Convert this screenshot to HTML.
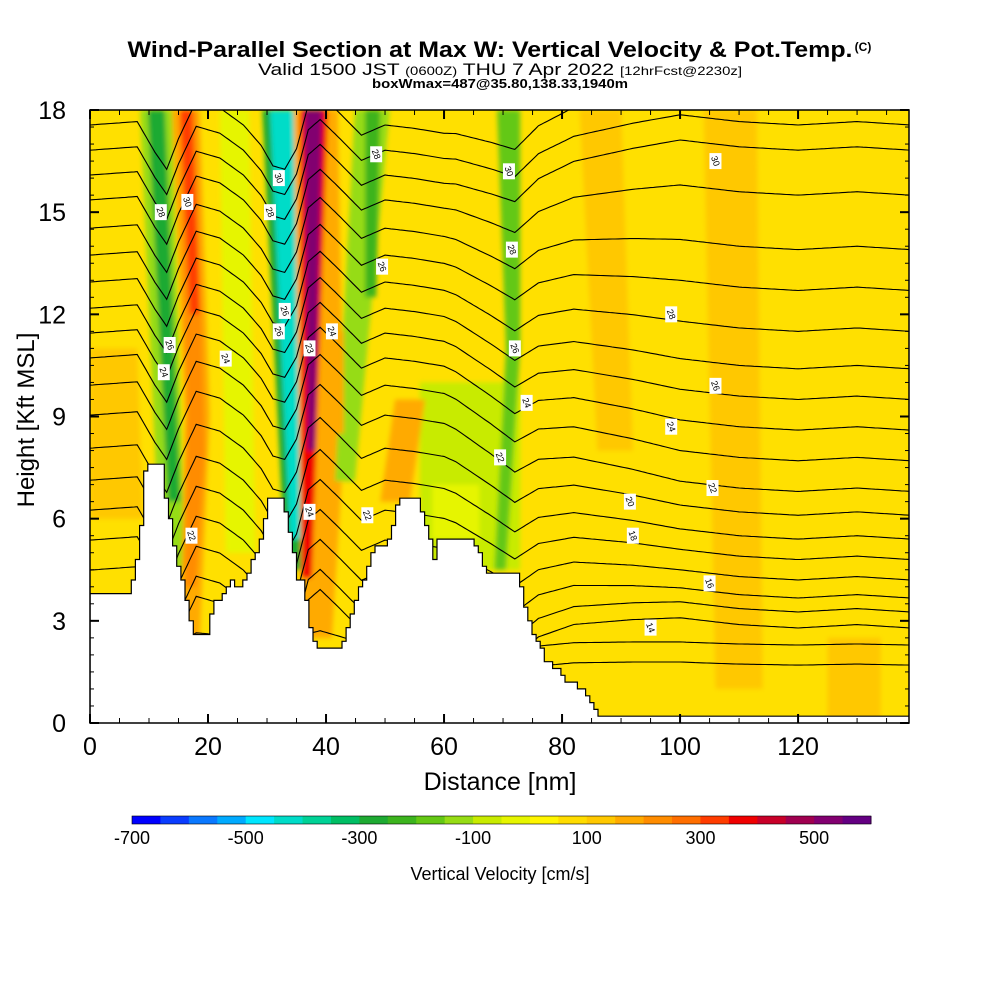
<!DOCTYPE html>
<html><head><meta charset="utf-8"><style>
body{margin:0;background:#fff;width:1000px;height:1000px;overflow:hidden}
svg{display:block}
text{font-family:"Liberation Sans",Arial,sans-serif}
</style></head><body>
<svg id="chart" width="1000" height="1000" viewBox="0 0 1000 1000">
<g>
<text x="490" y="57" text-anchor="middle" font-size="22" font-weight="bold" textLength="725" lengthAdjust="spacingAndGlyphs">Wind-Parallel Section at Max W: Vertical Velocity &amp; Pot.Temp.</text>
<text x="863" y="51" text-anchor="middle" font-size="12" font-weight="bold">(C)</text>
<text x="500" y="75" text-anchor="middle" font-size="17" textLength="484" lengthAdjust="spacingAndGlyphs">Valid 1500 JST <tspan font-size="12">(0600Z)</tspan> THU 7 Apr 2022 <tspan font-size="12">[12hrFcst@2230z]</tspan></text>
<text x="500" y="88" text-anchor="middle" font-size="13" font-weight="bold" textLength="256" lengthAdjust="spacingAndGlyphs">boxWmax=487@35.80,138.33,1940m</text>
</g>
<defs><clipPath id="plotclip"><rect x="90" y="110" width="819" height="613"/></clipPath>
<filter id="soft" x="-5%" y="-5%" width="110%" height="110%"><feGaussianBlur stdDeviation="2.5"/></filter></defs>
<g id="field" clip-path="url(#plotclip)"></g>
<g id="contours" clip-path="url(#plotclip)"></g>
<g id="terrain" clip-path="url(#plotclip)"></g>
<g id="labels"></g>
<rect x="90" y="110" width="819" height="613" fill="none" stroke="#000" stroke-width="1.5"/>
<g id="axes"></g>
<text x="500" y="790" text-anchor="middle" font-size="25">Distance [nm]</text>
<text transform="translate(34,420) rotate(-90)" text-anchor="middle" font-size="24">Height [Kft MSL]</text>
<g id="cbar"></g>
<text x="500" y="880" text-anchor="middle" font-size="18">Vertical Velocity [cm/s]</text>
</svg>
<script>
const NS="http://www.w3.org/2000/svg";
// colorbar levels (cm/s) and colors
const cbLevels=[-700,-650,-600,-550,-500,-450,-400,-350,-300,-250,-200,-150,-100,-50,0,50,100,150,200,250,300,350,400,450,500,550];
const cbColors=["#0000ff","#0a3cff","#0a78ff","#00aaff","#00e6ff","#00dcc8","#00d296","#00be64","#1eaa32","#3cb41e","#64c814","#96dc14","#c8eb00","#e6f500","#fff500","#ffdc00","#ffc800","#ffaa00","#ff8c00","#ff6e00","#ff3c00","#f00000","#c80028","#a00050","#820070","#640082"];
const cbTicks=[-700,-500,-300,-100,100,300,500];
// terrain profile
const terrX=[0,6.4,7.1,7.8,8.5,9.0,9.7,11.9,12.7,13.9,14.9,16.1,16.9,17.5,19.5,20.3,21.2,22.9,24.1,24.9,25.8,27.1,28.5,29.3,30.0,32.2,33.1,34.2,34.9,36.1,36.6,37.3,38.0,42.4,43.6,44.9,46.3,47.8,50.0,50.8,51.7,52.5,55.1,55.9,57.3,58.0,58.8,64.4,65.8,66.9,72.0,72.9,73.7,75.4,77.1,78.8,80.5,83.1,84.7,85.9,139];
const terrH=[3.85,3.85,4.2,4.93,5.96,7.43,7.66,7.66,6.55,5.37,4.49,3.61,2.88,2.58,2.58,3.17,3.61,3.9,4.2,3.9,4.2,4.64,5.23,5.96,6.69,6.69,5.96,5.23,4.2,4.2,3.32,2.73,2.23,2.23,2.88,3.61,4.35,5.08,5.23,5.66,6.25,6.69,6.69,6.25,5.52,4.79,5.43,5.43,4.93,4.49,4.49,3.9,3.17,2.44,1.85,1.56,1.26,0.97,0.53,0.29,0.29];
// theta contour base heights (kft) at left and right of domain
const thetaLeft=[17.56,16.82,16.09,15.36,14.53,13.74,12.95,12.18,11.45,10.72,9.92,9.04,8.07,7.13,6.25,5.37,4.49,3.61,3.02,2.44,1.85];
const thetaRight=[18.5,17.56,16.82,15.5,13.9,12.7,11.5,10.4,9.5,8.6,7.7,6.8,6.1,5.4,4.8,4.2,3.67,3.26,2.79,2.29,1.7];
// displacement profile (kft) along distance
const dispX=[0,8,11,13,15,18,22,26,29,31,33,35,37,39,42,46,50,55,62,68,72,76,82,92,100,110,120,130,139];
const dispV=[0,0.1,-0.8,-1.3,-0.4,0.7,0.5,0.0,-0.6,-1.2,-1.3,-0.7,0.6,0.9,0.4,-0.3,0.0,-0.1,-0.3,-0.7,-1.0,-0.4,0,0.2,0.3,0.1,0,0.1,0];
// velocity bands: polygons [nm,kft] and value
const bandVals=[-150,-300,150,200,300,-300,-450,150,350,500,-100,-150,-250,150,150,-200,100,100,100,100,-50,-50];
const bandPolys=[
[[8.5,18],[13.9,18],[16.1,4.5],[11.9,4.5]],
[[9.8,18],[12.7,18],[15.3,6.5],[13.2,6.5]],
[[13.9,18],[18.6,18],[20.3,9],[18.6,2.5],[15.3,2.5],[16.1,9]],
[[15,18],[18,18],[19.5,8],[18,4],[16,4],[16.5,9]],
[[15.3,18],[17.3,18],[18.6,12],[16.9,12]],
[[29.2,18],[35.6,18],[35.9,4.5],[33.1,4.5]],
[[30.5,18],[34.7,18],[35.6,5.4],[33.9,5.4]],
[[34.5,18],[42,18],[43,8],[41,2.5],[36,2.5]],
[[35.6,18],[40.3,18],[37.6,4.25],[35.9,4.25]],
[[36.4,18],[39.3,18],[38.1,8],[36.9,8]],
[[55.9,10],[72.9,10],[72.9,4.5],[55.9,4.5]],
[[44.9,18],[50.8,18],[44.9,7.1],[41.5,7.1]],
[[46.6,18],[49.2,18],[48.5,12.5],[46.6,12.5]],
[[51.7,9.5],[56.8,9.5],[54.2,6.5],[49.2,6.5]],
[[40.5,11.5],[43,11.5],[43,8.5],[40.5,8.5]],
[[69,18],[72.9,18],[72.9,11],[70.5,4.5],[68.5,4.5],[70.5,11]],
[[83,18],[90,18],[92,8],[86,8]],
[[104,18],[113,18],[114,1],[106,1]],
[[125,2.5],[134,2.5],[134,0],[125,0]],
[[0,11],[8,11],[9,6],[0,6]],
[[22,18],[27,18],[28,5],[23,5]],
[[58,7],[66,7],[66,5.4],[58,5.4]]
];
const contourLbl=[["28",12,15],["30",16.5,15.3],["26",13.5,11.1],["24",12.5,10.3],["24",23,10.7],["22",17.2,5.5],["30",32,16],["28",30.5,15],["26",33,12.1],["26",32,11.5],["23",37.2,11],["24",41,11.5],["24",37.2,6.2],["28",48.5,16.7],["26",49.5,13.4],["22",47,6.1],["30",71,16.2],["28",71.5,13.9],["26",72,11],["24",74,9.4],["22",69.5,7.8],["28",98.5,12],["26",106,9.9],["24",98.5,8.7],["22",105.5,6.9],["20",91.5,6.5],["18",92,5.5],["16",105,4.1],["14",95,2.8],["30",106,16.5]];
const X0=90,X1=909,Y0=723,Y1=110,XMAX=138.8,YMAX=18;
function sx(v){return X0+(X1-X0)*v/XMAX;}
function sy(v){return Y0-(Y0-Y1)*v/YMAX;}
function colorOf(v){let i=0;for(let k=0;k<cbLevels.length;k++){if(v>=cbLevels[k])i=k;}return cbColors[i];}
function interp(xs,ys,x){if(x<=xs[0])return ys[0];for(let i=1;i<xs.length;i++){if(x<=xs[i]){const t=(x-xs[i-1])/(xs[i]-xs[i-1]);return ys[i-1]+t*(ys[i]-ys[i-1]);}}return ys[ys.length-1];}
// field
const field=document.getElementById('field');
const bg=document.createElementNS(NS,'rect');
bg.setAttribute('x',X0);bg.setAttribute('y',Y1);bg.setAttribute('width',X1-X0);bg.setAttribute('height',Y0-Y1);bg.setAttribute('fill','#ffe000');


field.appendChild(bg);
const fg=document.createElementNS(NS,'g');fg.setAttribute('filter','url(#soft)');field.appendChild(fg);
bandPolys.forEach((p,i)=>{const el=document.createElementNS(NS,'polygon');
el.setAttribute('points',p.map(q=>sx(q[0]).toFixed(1)+','+sy(q[1]).toFixed(1)).join(' '));
el.setAttribute('fill',colorOf(bandVals[i]));


fg.appendChild(el);});
// contours
const cg=document.getElementById('contours');
for(let i=0;i<thetaLeft.length;i++){let pts=[];
for(let x=0;x<=139;x+=0.5){const w=Math.min(1,Math.max(0,(x-60)/40));
const scale=thetaLeft[i]<3?0.3:1;
const h=thetaLeft[i]*(1-w)+thetaRight[i]*w+interp(dispX,dispV,x)*scale;
pts.push(sx(x).toFixed(1)+','+sy(h).toFixed(1));}
const pl=document.createElementNS(NS,'polyline');pl.setAttribute('points',pts.join(' '));
pl.setAttribute('fill','none');pl.setAttribute('stroke','#000');pl.setAttribute('stroke-width','1.1');


cg.appendChild(pl);}
// terrain (staircase, as in model grid)
const tg=document.getElementById('terrain');
let tp=[];const STEP=0.7;let prevY=null;
for(let x=0;x<=139;x+=STEP){const y=sy(Math.round(interp(terrX,terrH,x)/0.2)*0.2);
if(prevY!==null)tp.push(sx(x).toFixed(1)+','+prevY.toFixed(1));
tp.push(sx(x).toFixed(1)+','+y.toFixed(1));prevY=y;}
tp.push(sx(139)+','+prevY.toFixed(1));
tp.push(sx(139)+','+(Y0+5));tp.push(sx(0)+','+(Y0+5));
const tpoly=document.createElementNS(NS,'polygon');tpoly.setAttribute('points',tp.join(' '));
tpoly.setAttribute('fill','#fff');tpoly.setAttribute('stroke','#000');tpoly.setAttribute('stroke-width','1.2');


tg.appendChild(tpoly);
// contour labels
const lg=document.getElementById('labels');
contourLbl.forEach(l=>{const x=sx(l[1]),y=sy(l[2]);
const r=document.createElementNS(NS,'rect');r.setAttribute('x',x-6);r.setAttribute('y',y-8);r.setAttribute('width',12);r.setAttribute('height',16);r.setAttribute('fill','#fff');


lg.appendChild(r);
const t=document.createElementNS(NS,'text');t.setAttribute('transform','translate('+x+','+y+') rotate(70)');
t.setAttribute('text-anchor','middle');t.setAttribute('dy','3');t.setAttribute('font-size','9');t.textContent=l[0];


lg.appendChild(t);});
// axes
const ag=document.getElementById('axes');
function line(x1,y1,x2,y2,name,w){const l=document.createElementNS(NS,'line');l.setAttribute('x1',x1);l.setAttribute('y1',y1);l.setAttribute('x2',x2);l.setAttribute('y2',y2);l.setAttribute('stroke','#000');l.setAttribute('stroke-width',w||1);


ag.appendChild(l);}
function txt(x,y,s,size,anchor,name){const t=document.createElementNS(NS,'text');t.setAttribute('x',x);t.setAttribute('y',y);t.setAttribute('font-size',size);t.setAttribute('text-anchor',anchor);t.textContent=s;


ag.appendChild(t);}
for(let k=0;k<=36;k++){const v=k*0.5,y=sy(v),major=(v%3===0);const len=major?9:4;
line(X0,y,X0+len,y,'y-tick',major?2:1);line(X1,y,X1-len,y,'y-tick-right',major?2:1);
if(major)txt(66,y+9,String(v),25,'end','y-tick-label');}
for(let v=0;v<=135;v+=5){const x=sx(v),major=(v%20===0);const len=major?9:5;
line(x,Y0,x,Y0-len,'x-tick',major?2:1);line(x,Y1,x,Y1+len,'x-tick-top',major?2:1);
if(major)txt(x,755,String(v),25,'middle','x-tick-label');}
// colorbar
const cb=document.getElementById('cbar');
const CB0=132,CB1=871,sw=(CB1-CB0)/cbColors.length;
cbColors.forEach((c,i)=>{const r=document.createElementNS(NS,'rect');r.setAttribute('x',CB0+i*sw);r.setAttribute('y',816);r.setAttribute('width',sw+0.5);r.setAttribute('height',8);r.setAttribute('fill',c);


cb.appendChild(r);});
const fr=document.createElementNS(NS,'rect');fr.setAttribute('x',CB0);fr.setAttribute('y',816);fr.setAttribute('width',CB1-CB0);fr.setAttribute('height',8);fr.setAttribute('fill','none');fr.setAttribute('stroke','#000');fr.setAttribute('stroke-width','0.6');


cb.appendChild(fr);
cbTicks.forEach(v=>{const i=cbLevels.indexOf(v);const t=document.createElementNS(NS,'text');t.setAttribute('x',CB0+i*sw);t.setAttribute('y',844);t.setAttribute('font-size','18');t.setAttribute('text-anchor','middle');t.textContent=String(v);


cb.appendChild(t);});
</script>
</body></html>
